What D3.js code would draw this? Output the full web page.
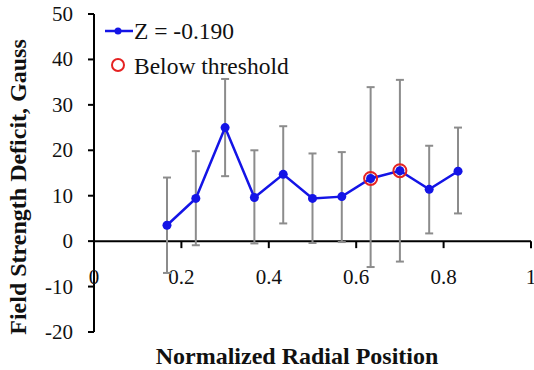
<!DOCTYPE html>
<head>
  <meta charset="utf-8">
  <script src="https://d3js.org/d3.v7.min.js"></script>
</head>

<body style="margin:0;background:white">
  <svg width="534" height="370" font-family="Liberation Serif"></svg>

  <script>
    // data
    const positions = [0.167, 0.233, 0.3, 0.367, 0.433, 0.5, 0.567, 0.633, 0.7, 0.767, 0.833];
    const deficit   = [3.5, 9.4, 25.0, 9.6, 14.7, 9.4, 9.8, 13.8, 15.5, 11.4, 15.4];
    const errHigh   = [14.0, 19.8, 35.7, 20.0, 25.3, 19.3, 19.6, 33.9, 35.5, 21.0, 25.0];
    const errLow    = [-7.0, -0.9, 14.3, -0.5, 3.9, -0.4, -0.2, -5.7, -4.5, 1.7, 6.1];
    const belowThreshold = [0.633, 0.7];
    const xTicks = [0, 0.2, 0.4, 0.6, 0.8, 1];
    const yTicks = [-20, -10, 0, 10, 20, 30, 40, 50];
    const seriesLabel = 'Z = -0.190';
    const thresholdLabel = 'Below threshold';

    const svg = d3.select('svg');
    const blue = '#1414e6';
    const red = '#e52222';

    const x = d3.scaleLinear().domain([0, 1]).range([94, 531]);
    const y = d3.scaleLinear().domain([-20, 50]).range([332, 14]);

    const points = positions.map((p, i) => ({
      p, v: deficit[i], hi: errHigh[i], lo: errLow[i]
    }));

    const txt = (sel, size, bold) => sel
      .attr('font-family', 'Liberation Serif')
      .style('font-family', "'Liberation Serif'")
      .style('font-size', size + 'px')
      .style('font-weight', bold ? 'bold' : 'normal')
      .attr('fill', '#111');

    // axes lines
    svg.append('line')
      .attr('x1', x(0)).attr('x2', x(0))
      .attr('y1', y(50)).attr('y2', y(-20))
      .attr('stroke', '#000').attr('stroke-width', 2);
    svg.append('line')
      .attr('x1', x(0)).attr('x2', x(1))
      .attr('y1', y(0)).attr('y2', y(0))
      .attr('stroke', '#000').attr('stroke-width', 2);

    // y ticks
    svg.selectAll('.ytick').data(yTicks).enter().append('line')
      .attr('x1', x(0) - 6).attr('x2', x(0))
      .attr('y1', d => y(d)).attr('y2', d => y(d))
      .attr('stroke', '#000').attr('stroke-width', 2);
    svg.selectAll('.ylab').data(yTicks).enter().append('text')
      .attr('x', 73).attr('y', d => y(d) + 7)
      .attr('text-anchor', 'end')
      .text(d => d)
      .call(txt, 21);

    // x ticks
    svg.selectAll('.xtick').data(xTicks.slice(1)).enter().append('line')
      .attr('x1', d => x(d)).attr('x2', d => x(d))
      .attr('y1', y(0)).attr('y2', y(0) + 7)
      .attr('stroke', '#000').attr('stroke-width', 2);
    svg.selectAll('.xlab').data(xTicks).enter().append('text')
      .attr('x', d => x(d)).attr('y', 284)
      .attr('text-anchor', 'middle')
      .text(d => d)
      .call(txt, 21);

    // error bars
    const eb = svg.append('g').attr('stroke', '#8c8c8c').attr('stroke-width', 2);
    points.forEach(d => {
      eb.append('line')
        .attr('x1', x(d.p)).attr('x2', x(d.p))
        .attr('y1', y(d.hi)).attr('y2', y(d.lo));
      [d.hi, d.lo].forEach(v => {
        eb.append('line')
          .attr('x1', x(d.p) - 4).attr('x2', x(d.p) + 4)
          .attr('y1', y(v)).attr('y2', y(v));
      });
    });

    // series line + markers
    const line = d3.line().x(d => x(d.p)).y(d => y(d.v));
    svg.append('path')
      .datum(points)
      .attr('d', line)
      .attr('fill', 'none')
      .attr('stroke', blue)
      .attr('stroke-width', 2.5);
    svg.selectAll('.dot').data(points).enter().append('circle')
      .attr('cx', d => x(d.p)).attr('cy', d => y(d.v))
      .attr('r', 4.5).attr('fill', blue);

    // below threshold circles
    svg.selectAll('.thr').data(points.filter(d => belowThreshold.includes(d.p))).enter().append('circle')
      .attr('cx', d => x(d.p)).attr('cy', d => y(d.v))
      .attr('r', 6.5).attr('fill', 'none')
      .attr('stroke', red).attr('stroke-width', 2);

    // legend
    svg.append('line')
      .attr('x1', 105).attr('x2', 133).attr('y1', 31).attr('y2', 31)
      .attr('stroke', blue).attr('stroke-width', 2.5);
    svg.append('circle').attr('cx', 118).attr('cy', 31).attr('r', 3.5).attr('fill', blue);
    svg.append('text')
      .attr('x', 134).attr('y', 39).text(seriesLabel)
      .call(txt, 23.5);
    svg.append('circle').attr('cx', 118).attr('cy', 65).attr('r', 6)
      .attr('fill', 'none').attr('stroke', red).attr('stroke-width', 2);
    svg.append('text')
      .attr('x', 134).attr('y', 74).text(thresholdLabel)
      .call(txt, 23.5);

    // axis titles
    svg.append('text')
      .attr('x', 297).attr('y', 364)
      .attr('text-anchor', 'middle')
      .text('Normalized Radial Position')
      .call(txt, 24, true);
    svg.append('text')
      .attr('transform', 'translate(26,187) rotate(-90)')
      .attr('text-anchor', 'middle')
      .text('Field Strength Deficit, Gauss')
      .call(txt, 24, true);
  </script>
</body>
